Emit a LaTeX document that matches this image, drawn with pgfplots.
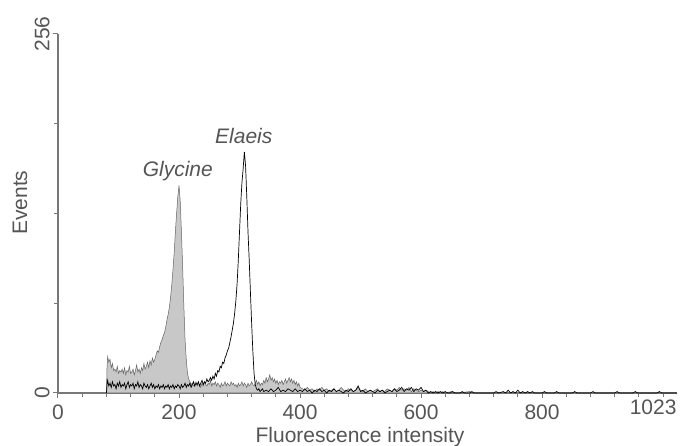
\documentclass[border=0pt]{standalone}
\usepackage{pgfplots}
\pgfplotsset{compat=1.18}
\usepackage{fontspec}
\setmainfont{Liberation Sans}
\definecolor{txt}{RGB}{85,85,85}
\definecolor{axl}{RGB}{120,120,120}
\definecolor{gfill}{RGB}{200,200,200}
\definecolor{gline}{RGB}{100,100,100}
\newcommand{\bigf}{\fontsize{21}{25}\selectfont}
\begin{document}
\begin{tikzpicture}
\begin{axis}[
  name=ax,
  scale only axis, width=619pt, height=359pt,
  xmin=0, xmax=1023, ymin=0, ymax=256,
  axis lines=left,
  axis line style={-, color=axl, line width=1.1pt},
  tick align=outside,
  major tick length=5pt, minor tick length=4pt,
  tick style={color=axl, line width=1pt},
  xtick={0,200,400,600,800},
  minor xtick={40,80,...,1000},
  extra x ticks={1023},
  extra x tick style={major tick length=0pt, xticklabel style={anchor=north east, xshift=3pt}},
  ytick={0,256},
  minor ytick={64,128,192},
  /pgf/number format/assume math mode=true,
  /pgf/number format/1000 sep={},
  tick label style={font=\bigf, text=txt},
  xticklabel style={yshift=-3pt},
  yticklabel style={rotate=90, anchor=south},
  xlabel={Fluorescence intensity},
  ylabel={Events},
  label style={font=\bigf, text=txt},
  xlabel style={at={(axis description cs:0.488,0)}, anchor=center, yshift=-44pt},
  ylabel style={at={(axis description cs:-0.0614,0.53)}, anchor=center},
  clip=false,
]
% Glycine (grey filled)
\addplot[draw=gline, fill=gfill, line width=0.5pt] coordinates {
(80,0)(81,18)(82,26)(84,22)(86,24)(88,18)(90,21)(92,16)(94,17)(96,15)(98,19)
(100,14)(102,16)(104,15)(106,17)(108,14)(110,18)(112,13)(114,16)(116,15)(118,19)
(120,14)(122,15)(124,17)(126,13)(128,16)(130,20)(132,15)(134,17)(136,14)(138,18)
(140,16)(142,21)(144,17)(146,19)(148,22)(150,18)(152,23)(154,20)(156,25)(158,22)
(160,24)(162,27)(164,30)(166,29)(168,33)(170,36)(172,38)(174,41)(176,43)(178,47)
(180,52)(182,56)(184,61)(186,68)(188,77)(190,88)(192,100)(194,115)(196,128)(198,140)
(200,148)(202,137)(204,115)(206,90)(208,62)(210,38)(212,24)(214,14)(216,10)(218,8)
(220,6)(222,7)(224,5)(226,6)(228,8)(230,5)(232,7)(234,6)(236,4)(238,7)
(240,5)(242,8)(244,6)(246,5)(248,7)(250,6)(252,9)(254,5)(256,7)(258,6)
(260,8)(262,5)(264,7)(266,6)(268,4)(270,7)(272,5)(274,6)(276,8)(278,5)
(280,7)(282,6)(284,5)(286,8)(288,6)(290,7)(292,5)(294,6)(296,4)(298,7)
(300,5)(302,6)(304,8)(306,5)(308,7)(310,6)(312,4)(314,7)(316,5)(318,6)
(320,8)(322,6)(324,5)(326,7)(328,9)(330,6)(332,8)(334,5)(336,7)(338,6)
(340,9)(342,7)(344,11)(346,8)(348,10)(350,13)(352,9)(354,11)(356,8)(358,10)
(360,7)(362,9)(364,6)(366,8)(368,7)(370,9)(372,6)(374,8)(376,10)(378,7)
(380,9)(382,11)(384,8)(386,10)(388,7)(390,9)(392,6)(394,8)(396,5)(398,7)
(400,4)(404,3)(408,2)(412,4)(416,2)(420,3)(424,1)(428,3)(432,2)(436,4)
(440,2)(444,3)(448,1)(452,2)(456,3)(460,1)(464,2)(468,4)(472,2)(476,1)
(480,3)(484,2)(488,1)(492,2)(496,4)(500,2)(504,1)(508,3)(512,1)(516,2)
(520,1)(524,2)(528,3)(532,1)(536,2)(540,1)(544,3)(548,2)(552,1)(556,3)
(560,2)(564,4)(568,2)(572,3)(576,2)(580,4)(584,1)(588,3)(592,2)(596,1)
(600,2)(604,1)(608,2)(612,1)(616,0)(620,1)(624,0)(628,1)(632,0)(636,1)
(640,0)(650,1)(660,0)(680,1)(690,0)(700,0)
} \closedcycle;
% Elaeis (black line)
\addplot[draw=black, line width=0.7pt] coordinates {
(80,0)(81,6)(82,9)(84,5)(86,7)(88,4)(90,8)(92,5)(94,6)(96,3)(98,7)
(100,5)(102,8)(104,4)(106,6)(108,5)(110,7)(112,3)(114,6)(116,8)(118,4)
(120,6)(122,5)(124,7)(126,3)(128,6)(130,5)(132,8)(134,4)(136,6)(138,5)
(140,3)(142,7)(144,5)(146,4)(148,6)(150,3)(152,5)(154,7)(156,4)(158,6)
(160,3)(162,5)(164,4)(166,6)(168,3)(170,5)(172,4)(174,6)(176,3)(178,5)
(180,4)(182,6)(184,3)(186,5)(188,4)(190,6)(192,3)(194,5)(196,4)(198,6)
(200,5)(202,3)(204,6)(206,4)(208,5)(210,7)(212,4)(214,6)(216,5)(218,7)
(220,4)(222,6)(224,8)(226,5)(228,7)(230,6)(232,8)(234,5)(236,7)(238,9)
(240,6)(242,8)(244,7)(246,10)(248,8)(250,9)(252,11)(254,9)(256,12)(258,10)
(260,14)(262,12)(264,16)(266,15)(268,19)(270,18)(272,22)(274,21)(276,25)(278,27)
(280,30)(282,32)(284,36)(286,40)(288,45)(290,50)(292,57)(294,66)(296,78)(298,95)
(300,115)(302,135)(304,150)(306,160)(308,172)(310,162)(312,140)(314,115)(316,95)(318,72)
(320,50)(322,30)(324,14)(326,6)(328,3)(330,2)(332,3)(334,1)(336,2)(338,3)
(340,1)(344,2)(348,1)(352,3)(356,1)(360,2)(364,4)(368,1)(372,2)(376,1)
(380,3)(384,2)(388,1)(392,3)(396,1)(400,2)(404,1)(408,3)(412,1)(416,2)
(420,0)(424,2)(428,1)(432,3)(436,1)(440,2)(444,0)(448,2)(452,1)(456,3)
(460,1)(464,2)(468,1)(472,0)(476,2)(480,1)(484,3)(488,1)(492,2)(496,5)
(500,1)(504,2)(508,0)(512,1)(516,2)(520,1)(524,0)(528,2)(532,1)(536,2)
(540,0)(544,1)(548,2)(552,1)(556,3)(560,1)(564,2)(568,4)(572,1)(576,3)
(580,2)(584,4)(588,1)(592,3)(596,2)(600,4)(604,1)(608,2)(612,0)(616,1)
(620,0)(624,1)(628,0)(632,1)(636,0)(640,1)(644,0)(648,0)(652,1)(656,0)
(664,0)(668,1)(672,0)(680,0)(684,1)(688,0)(700,0)(720,0)(724,1)(728,0)
(736,1)(740,0)(744,2)(748,0)(752,1)(756,0)(760,2)(764,0)(768,1)(772,0)
(776,1)(780,0)(784,1)(788,0)(800,0)(804,1)(808,0)(820,0)(824,1)(828,0)
(850,0)(854,1)(858,0)(880,0)(884,1)(888,0)(920,0)(924,1)(928,0)(950,0)
(954,1)(958,0)(990,0)(994,1)(998,0)(1023,0)
};
\node[font=\bigf\itshape, text=txt] at (axis cs:198,158) {Glycine};
\node[font=\bigf\itshape, text=txt] at (axis cs:307,183) {Elaeis};
\end{axis}
\pgfresetboundingbox
\path ([shift={(-58pt,-53pt)}]ax.south west) rectangle ([shift={(3pt,34pt)}]ax.north east);
\end{tikzpicture}
\end{document}
